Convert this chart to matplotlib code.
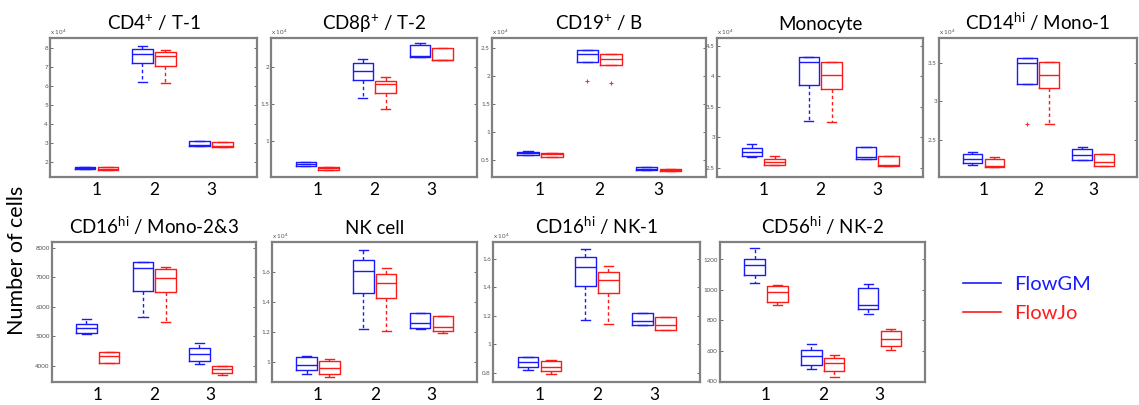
import matplotlib
matplotlib.use("Agg")
import matplotlib.pyplot as plt
from matplotlib.lines import Line2D

plt.rcParams['font.family'] = ['Lato', 'DejaVu Sans']
plt.rcParams['mathtext.fontset'] = 'custom'
plt.rcParams['mathtext.rm'] = 'Lato'
plt.rcParams['mathtext.default'] = 'regular'

# ---- data (five-number summaries: whisker low, q1, median, q3, whisker high) ----
titles = ["CD4$^{+}$ / T-1", "CD8β$^{+}$ / T-2", "CD19$^{+}$ / B", "Monocyte",
          "CD14$^{hi}$ / Mono-1", "CD16$^{hi}$ / Mono-2&3", "NK cell",
          "CD16$^{hi}$ / NK-1", "CD56$^{hi}$ / NK-2"]
groups = ["1", "2", "3"]
series_names = ["FlowGM", "FlowJo"]
multiplier = ["x 10$^{4}$"] * 5 + [""] + ["x 10$^{4}$"] * 2 + [""]

t1_gm = [[1.62, 1.63, 1.68, 1.72, 1.73], [6.24, 7.21, 7.70, 7.95, 8.12], [2.85, 2.85, 2.90, 3.11, 3.11]]
t1_fj = [[1.60, 1.61, 1.66, 1.72, 1.73], [6.15, 7.07, 7.56, 7.77, 7.88], [2.81, 2.81, 2.85, 3.04, 3.04]]
t2_gm = [[0.665, 0.665, 0.70, 0.72, 0.72], [1.58, 1.83, 1.95, 2.05, 2.11], [2.14, 2.14, 2.15, 2.30, 2.32]]
t2_fj = [[0.61, 0.61, 0.64, 0.66, 0.66], [1.43, 1.65, 1.77, 1.81, 1.86], [2.09, 2.09, 2.10, 2.25, 2.25]]
b_gm = [[0.59, 0.59, 0.62, 0.65, 0.67], [2.24, 2.24, 2.38, 2.45, 2.45], [0.33, 0.33, 0.35, 0.37, 0.37]]
b_fj = [[0.56, 0.56, 0.60, 0.63, 0.63], [2.19, 2.19, 2.30, 2.38, 2.38], [0.31, 0.31, 0.33, 0.35, 0.35]]
mono_gm = [[2.68, 2.69, 2.76, 2.83, 2.89], [3.27, 3.86, 4.23, 4.32, 4.32], [2.65, 2.65, 2.67, 2.85, 2.85]]
mono_fj = [[2.54, 2.54, 2.60, 2.65, 2.70], [3.26, 3.80, 4.03, 4.23, 4.23], [2.53, 2.53, 2.54, 2.70, 2.70]]
mono1_gm = [[2.17, 2.19, 2.24, 2.31, 2.34], [3.23, 3.23, 3.50, 3.57, 3.57], [2.23, 2.23, 2.30, 2.38, 2.40]]
mono1_fj = [[2.14, 2.14, 2.15, 2.24, 2.27], [2.71, 3.17, 3.35, 3.51, 3.51], [2.15, 2.15, 2.20, 2.31, 2.31]]
mono23_gm = [[5090, 5104, 5271, 5427, 5583], [5661, 6520, 7300, 7523, 7523], [4045, 4167, 4401, 4602, 4769]]
mono23_fj = [[4100, 4100, 4346, 4457, 4457], [5483, 6497, 6965, 7278, 7333], [3677, 3755, 3900, 3978, 4000]]
nk_gm = [[0.922, 0.944, 0.978, 1.036, 1.04], [1.218, 1.462, 1.607, 1.678, 1.744], [1.222, 1.227, 1.258, 1.329, 1.329]]
nk_fj = [[0.90, 0.922, 0.962, 1.004, 1.02], [1.204, 1.427, 1.529, 1.584, 1.629], [1.196, 1.204, 1.231, 1.304, 1.304]]
nk1_gm = [[0.824, 0.840, 0.878, 0.911, 0.915], [1.169, 1.406, 1.540, 1.610, 1.671], [1.136, 1.136, 1.164, 1.223, 1.223]]
nk1_fj = [[0.793, 0.812, 0.843, 0.887, 0.894], [1.146, 1.357, 1.453, 1.505, 1.547], [1.099, 1.099, 1.134, 1.192, 1.192]]
nk2_gm = [[1047, 1095, 1167, 1204, 1274], [483, 509, 566, 603, 643], [842, 877, 903, 1012, 1040]]
nk2_fj = [[903, 920, 986, 1025, 1030], [428, 466, 522, 555, 570], [603, 632, 675, 728, 745]]

# outliers: (panel index, group index, series index, value)
outliers = [(2, 1, 0, 1.90), (2, 1, 1, 1.87), (4, 1, 0, 2.70)]

gm_all = [t1_gm, t2_gm, b_gm, mono_gm, mono1_gm, mono23_gm, nk_gm, nk1_gm, nk2_gm]
fj_all = [t1_fj, t2_fj, b_fj, mono_fj, mono1_fj, mono23_fj, nk_fj, nk1_fj, nk2_fj]

yticks = [[2, 3, 4, 5, 6, 7, 8], [1, 1.5, 2], [0.5, 1, 1.5, 2, 2.5], [2.5, 3, 3.5, 4, 4.5],
          [2.5, 3, 3.5], [4000, 5000, 6000, 7000, 8000], [1, 1.2, 1.4, 1.6],
          [0.8, 1, 1.2, 1.4, 1.6], [400, 600, 800, 1000, 1200]]
ylims = [(1.22, 8.53), (0.52, 2.39), (0.20, 2.67), (2.35, 4.63), (2.01, 3.83),
         (3450, 8190), (0.867, 1.80), (0.737, 1.717), (395, 1315)]

# ---- layout (pixel boxes) ----
W, H = 1139, 405
boxes_px = [(50, 38, 257, 177), (271, 38, 477, 177), (492, 38, 706, 177), (717, 38, 923, 177),
            (939, 38, 1137, 177),
            (52, 242, 256, 382), (272, 242, 477, 382), (493, 242, 700, 382), (720, 242, 925, 382)]

colors = ["#1a1aff", "#ff1a1a"]
offsets = [-0.2, 0.2]

fig = plt.figure(figsize=(W / 100, H / 100), dpi=100)

for i, (l, t, r, b) in enumerate(boxes_px):
    ax = fig.add_axes([l / W, 1 - b / H, (r - l) / W, (b - t) / H])
    for s, data in enumerate([gm_all[i], fj_all[i]]):
        stats = []
        for g, v in enumerate(data):
            fl = [o[3] for o in outliers if o[0] == i and o[1] == g and o[2] == s]
            stats.append(dict(whislo=v[0], q1=v[1], med=v[2], q3=v[3], whishi=v[4], fliers=fl))
        pos = [g + 1 + offsets[s] for g in range(len(data))]
        c = colors[s]
        ax.bxp(stats, positions=pos, widths=0.36, capwidths=0.16, showfliers=True,
               boxprops=dict(color=c, lw=1.0),
               whiskerprops=dict(color=c, lw=1.0, linestyle=(0, (2.5, 2))),
               capprops=dict(color=c, lw=1.0),
               medianprops=dict(color=c, lw=1.0),
               flierprops=dict(marker='+', markeredgecolor='#ff3030', markersize=3, mew=0.8))
    ax.set_xlim(0.19, 3.8)
    ax.set_ylim(*ylims[i])
    ax.set_yticks(yticks[i])
    ax.set_yticklabels(["%g" % v for v in yticks[i]])
    ax.set_xticks([1, 2, 3])
    ax.set_xticklabels(groups, fontsize=12.5)
    ax.tick_params(axis='x', length=0, pad=3.5)
    ax.tick_params(axis='y', direction='in', length=2.5, width=0.6, labelsize=4.5,
                   colors='#555555', pad=1.5, right=True)
    ax.tick_params(axis='x', colors='black')
    for sp in ax.spines.values():
        sp.set_color('#808080')
        sp.set_linewidth(1.6)
    ax.set_title(titles[i], fontsize=13.5, pad=6)
    if multiplier[i]:
        ax.text(0.0, 1.01, multiplier[i], transform=ax.transAxes, fontsize=4.5,
                color='#555555', ha='left', va='bottom')

fig.text(17 / W, 1 - 260 / H, "Number of cells", rotation=90, ha='center', va='center',
         fontsize=15.5)

handles = [Line2D([], [], color=colors[0], lw=1.2), Line2D([], [], color=colors[1], lw=1.2)]
fig.legend(handles, series_names, loc='center left', bbox_to_anchor=(945 / W, 1 - 299 / H),
           frameon=False, fontsize=14.5, handlelength=1.9, handletextpad=0.65,
           labelspacing=0.62, labelcolor=colors)

fig.savefig("out.png", dpi=100)
